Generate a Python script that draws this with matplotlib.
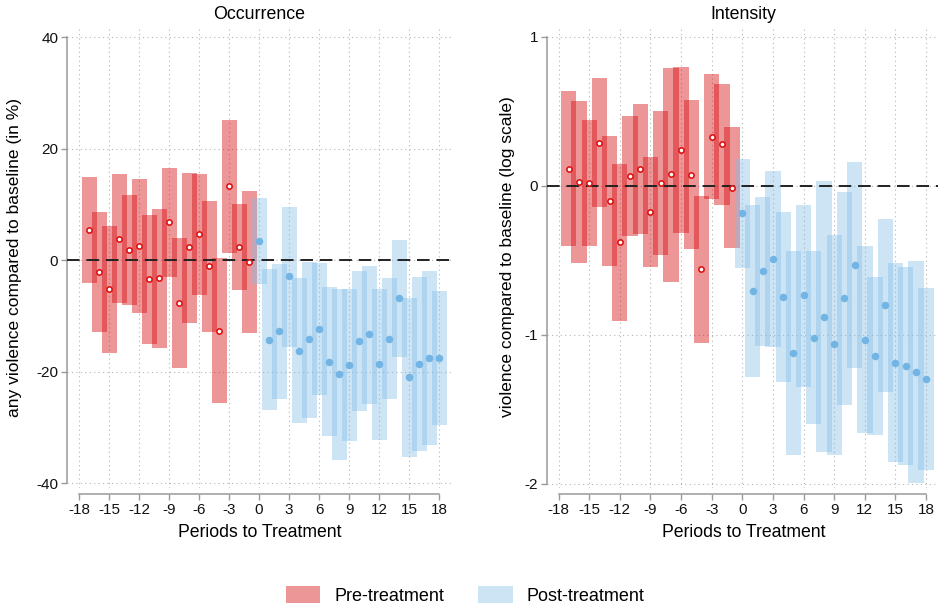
import numpy as np
import matplotlib
matplotlib.use('Agg')
import matplotlib.pyplot as plt
from matplotlib.patches import Patch

plt.rcParams['font.family'] = ['Liberation Sans', 'DejaVu Sans']

# periods
pre_periods = list(range(-17, 0))
post_periods = list(range(0, 19))

# --- Occurrence (in %) ---
occ_pre_est = [5.5, -2.1, -5.2, 3.9, 1.85, 2.5, -3.4, -3.2, 6.8, -7.7, 2.3, 4.65, -1.0, -12.6, 13.3, 2.4, -0.3]
occ_pre_lo = [-4.1, -12.8, -16.6, -7.7, -8.1, -9.45, -15.1, -15.7, -3.0, -19.4, -11.2, -6.2, -12.8, -25.6, 1.25, -5.4, -13.05]
occ_pre_hi = [14.9, 8.6, 6.2, 15.4, 11.8, 14.5, 8.2, 9.25, 16.55, 4.0, 15.65, 15.5, 10.6, 0.35, 25.2, 10.1, 12.4]

occ_post_est = [3.45, -14.3, -12.7, -2.9, -16.2, -14.2, -12.3, -18.2, -20.45, -18.8, -14.4, -13.3, -18.65, -14.05, -6.8, -20.9, -18.6, -17.5, -17.5]
occ_post_lo = [-4.3, -26.9, -24.8, -15.5, -29.2, -28.2, -24.1, -31.6, -35.8, -32.4, -27.0, -25.7, -32.2, -24.9, -17.4, -35.2, -34.2, -33.1, -29.5]
occ_post_hi = [11.2, -1.6, -0.6, 9.55, -3.1, -0.3, -0.5, -4.7, -5.2, -5.2, -1.9, -1.0, -5.2, -3.2, 3.7, -6.8, -3.05, -2.0, -5.45]

# --- Intensity (log scale) ---
int_pre_est = [0.114, 0.025, 0.02, 0.29, -0.103, -0.38, 0.063, 0.112, -0.176, 0.02, 0.076, 0.24, 0.074, -0.559, 0.33, 0.278, -0.015]
int_pre_lo = [-0.407, -0.519, -0.403, -0.141, -0.539, -0.908, -0.34, -0.324, -0.548, -0.463, -0.644, -0.315, -0.425, -1.056, -0.089, -0.127, -0.42]
int_pre_hi = [0.636, 0.568, 0.441, 0.72, 0.333, 0.143, 0.468, 0.546, 0.195, 0.503, 0.79, 0.797, 0.573, -0.069, 0.748, 0.685, 0.392]

int_post_est = [-0.186, -0.705, -0.575, -0.492, -0.745, -1.121, -0.736, -1.022, -0.881, -1.065, -0.756, -0.534, -1.034, -1.143, -0.801, -1.188, -1.208, -1.248, -1.297]
int_post_lo = [-0.555, -1.282, -1.076, -1.085, -1.317, -1.805, -1.349, -1.601, -1.789, -1.805, -1.47, -1.224, -1.662, -1.673, -1.382, -1.854, -1.872, -1.993, -1.906]
int_post_hi = [0.179, -0.127, -0.074, 0.101, -0.174, -0.438, -0.127, -0.438, 0.03, -0.331, -0.042, 0.157, -0.407, -0.613, -0.223, -0.521, -0.543, -0.507, -0.689]

xticks = list(range(-18, 19, 3))

RED = '#D50004'
RED_A = 0.41
BLUE = '#82BCE6'
BLUE_A = 0.40
SPINE = '#9a9a9a'
GRID = '#b4b4b4'


def draw_panel(ax, pre, post, yticks, ylim, xlim, title, ylabel, ylab_x):
    p_est, p_lo, p_hi = [np.array(a) for a in pre]
    q_est, q_lo, q_hi = [np.array(a) for a in post]

    # confidence bars (overlaps show darker)
    ax.bar(pre_periods, p_hi - p_lo, bottom=p_lo, width=1.5, color=RED,
           alpha=RED_A, linewidth=0, zorder=2)
    ax.bar(post_periods, q_hi - q_lo, bottom=q_lo, width=1.5, color=BLUE,
           alpha=BLUE_A, linewidth=0, zorder=2)

    ax.axhline(0, color='#222222', lw=1.4, dashes=(6.5, 3.5), zorder=3)

    ax.plot(pre_periods, p_est, 'o', ms=3.8, mfc='white', mec='#DC1414',
            mew=1.2, zorder=4, linestyle='none')
    ax.plot(post_periods, q_est, 'o', ms=4.4, color='#72B4E4',
            zorder=4, linestyle='none')

    ax.set_xlim(*xlim)
    ax.set_ylim(*ylim)
    ax.set_xticks(xticks)
    ax.set_xticklabels([str(t) for t in xticks])
    ax.set_yticks(yticks)
    ax.set_yticklabels([str(t) for t in yticks])

    # dotted grid
    for t in xticks:
        ax.axvline(t, color=GRID, lw=0.8, linestyle=(0, (1, 3)), zorder=1)
    for t in yticks:
        ax.axhline(t, color=GRID, lw=0.8, linestyle=(0, (1, 3)), zorder=1)

    for s in ['top', 'right']:
        ax.spines[s].set_visible(False)
    ax.spines['left'].set_color(SPINE)
    ax.spines['left'].set_linewidth(1.1)
    ax.spines['left'].set_bounds(min(yticks), max(yticks))
    ax.spines['bottom'].set_color(SPINE)
    ax.spines['bottom'].set_linewidth(1.1)
    ax.spines['bottom'].set_position(('outward', 4.5))
    ax.spines['bottom'].set_bounds(-18, 18)
    ax.tick_params(axis='both', colors=SPINE, labelcolor='#111111',
                   labelsize=11, length=4.3, width=1.0, pad=2)

    ax.set_title(title, fontsize=12.8, pad=5)
    ax.set_xlabel('Periods to Treatment', fontsize=12.7, labelpad=5)
    ax.set_ylabel(ylabel, fontsize=12.5)
    ax.yaxis.set_label_coords(ylab_x, 0.5)


fig = plt.figure(figsize=(9.38, 6.08), dpi=100)

ax1 = fig.add_axes([67 / 938, 1 - 488 / 608, 385 / 938, 462 / 608])
draw_panel(ax1, (occ_pre_est, occ_pre_lo, occ_pre_hi),
           (occ_post_est, occ_post_lo, occ_post_hi),
           [-40, -20, 0, 20, 40], (-40.84, 42.03), (-19.2, 19.3),
           'Occurrence', 'any violence compared to baseline (in %)', -0.118)

ax2 = fig.add_axes([547 / 938, 1 - 488 / 608, 393 / 938, 462 / 608])
draw_panel(ax2, (int_pre_est, int_pre_lo, int_pre_hi),
           (int_post_est, int_post_lo, int_post_hi),
           [-2, -1, 0, 1], (-2.029, 1.072), (-19.13, 19.36),
           'Intensity', 'violence compared to baseline (log scale)', -0.081)

legend_elements = [
    Patch(facecolor=RED, alpha=RED_A, linewidth=0, label='Pre-treatment'),
    Patch(facecolor=BLUE, alpha=BLUE_A, linewidth=0, label='Post-treatment'),
]
fig.legend(handles=legend_elements, loc='upper center', ncol=2,
           bbox_to_anchor=(0.496, 1 - 586 / 608), frameon=False, fontsize=13,
           handlelength=1.9, handleheight=1.05, handletextpad=0.78,
           columnspacing=1.9, borderpad=0, borderaxespad=0)

fig.savefig('out.png', dpi=100)
